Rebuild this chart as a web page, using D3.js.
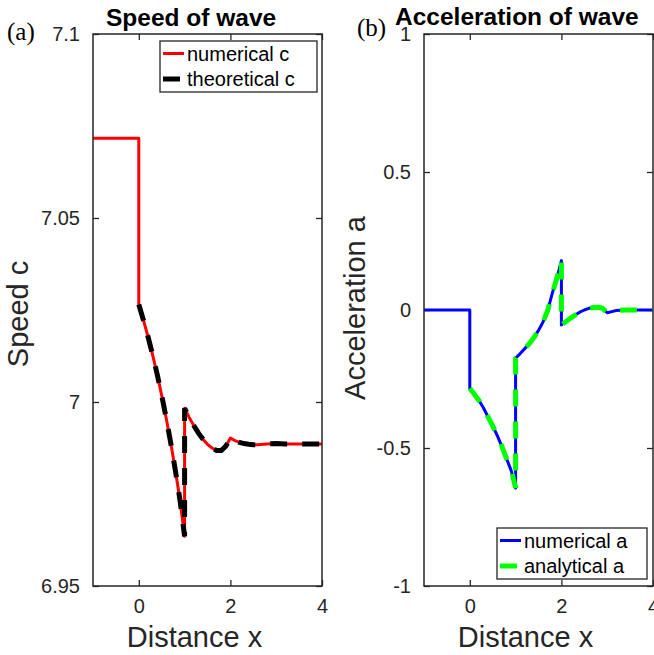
<!DOCTYPE html>
<html>
<head>
<meta charset="utf-8">
<script src="https://cdn.jsdelivr.net/npm/d3@7"></script>
<style>
  body { margin: 0; background: #fff; }
  text { font-family: "Liberation Sans", Arial, sans-serif; }
</style>
</head>
<body>
<svg id="chart" width="654" height="655"></svg>
<script>
// speed of wave (panel a)
const speedX = [-1, 0, 0, 0.1, 0.2, 0.3, 0.4, 0.5, 0.6, 0.7, 0.8, 0.9, 1.0,
  1.0, 1.1, 1.2, 1.3, 1.4, 1.5, 1.6, 1.7, 1.8, 1.9, 2.0,
  2.1, 2.2, 2.3, 2.4, 2.5, 2.6, 2.8, 3.0, 3.2, 3.5, 4.0];
const speedC = [7.0717, 7.0717, 7.0265, 7.0223, 7.0178, 7.0129, 7.0076, 7.0018, 6.9955, 6.9887, 6.9813, 6.9733, 6.9635,
  6.9983, 6.9958, 6.9936, 6.9916, 6.9899, 6.9885, 6.9875, 6.9868, 6.9868, 6.9880, 6.9902,
  6.9895, 6.9890, 6.9887, 6.9885, 6.9884, 6.9884, 6.9886, 6.9887, 6.9886, 6.9886, 6.9886];
const theoryFrom = 2;   // theoretical curve starts at x = 0, after the drop

// acceleration of wave (panel b)
const accelX = [-1, 0, 0, 0.1, 0.2, 0.3, 0.4, 0.5, 0.6, 0.7, 0.8, 0.9, 0.95, 1.0,
  1.0, 1.1, 1.2, 1.3, 1.4, 1.5, 1.6, 1.7, 1.8, 1.9, 2.0,
  2.0, 2.1, 2.2, 2.3, 2.4, 2.5, 2.6, 2.7, 2.8, 2.9, 3.0, 3.1, 3.2, 3.4, 4.0];
const accelA = [0, 0, -0.284, -0.305, -0.328, -0.355, -0.388, -0.420, -0.455, -0.494, -0.538, -0.580, -0.610, -0.645,
  -0.175, -0.158, -0.140, -0.122, -0.100, -0.074, -0.043, -0.002, 0.060, 0.115, 0.179,
  -0.054, -0.042, -0.030, -0.018, -0.008, 0.000, 0.006, 0.009, 0.010, 0.006, -0.010, -0.006, -0.002, 0.000, 0.000];
const analyticFrom = 2;

const xTicks = [0, 2, 4];
const speedTicks = [6.95, 7, 7.05, 7.1];
const speedTickLabels = ["6.95", "7", "7.05", "7.1"];
const accelTicks = [-1, -0.5, 0, 0.5, 1];
const accelTickLabels = ["-1", "-0.5", "0", "0.5", "1"];

const svg = d3.select("#chart");
const axisColor = "#262626";
const yTop = 34, yBottom = 586;

function drawPanel(o) {
  const x = d3.scaleLinear().domain([-1, 4]).range([o.left, o.right]),
        y = d3.scaleLinear().domain(o.yDomain).range([yBottom, yTop]),
        g = svg.append("g");

  // axes with inward ticks, on all four sides
  const ax = [
    [d3.axisBottom(x).tickValues(xTicks).tickFormat(d3.format("d")), `translate(0,${yBottom})`, true],
    [d3.axisTop(x).tickValues(xTicks).tickFormat(""), `translate(0,${yTop})`, false],
    [d3.axisLeft(y).tickValues(o.ticks).tickFormat((d, i) => o.tickLabels[i]), `translate(${o.left},0)`, true],
    [d3.axisRight(y).tickValues(o.ticks).tickFormat(""), `translate(${o.right},0)`, false]
  ];
  ax.forEach(([a, tr, lab]) => {
    const s = g.append("g").attr("transform", tr)
      .call(a.tickSizeInner(-6).tickSizeOuter(0).tickPadding(lab ? 13 : 0));
    s.select(".domain").remove();
    s.selectAll("line").attr("stroke", axisColor).attr("stroke-width", 1.3);
    s.selectAll("text").attr("fill", axisColor).style("font-size", "20px")
      .style("font-family", "'Liberation Sans', Arial, sans-serif");
  });

  const line = d3.line().x(d => x(d[0])).y(d => y(d[1]));
  const all = o.xs.map((v, i) => [v, o.ys[i]]);

  g.append("path").datum(all)
    .attr("d", line).attr("fill", "none")
    .attr("stroke", o.c1).attr("stroke-width", 3)
    .attr("stroke-linejoin", "round");
  g.append("path").datum(all.slice(o.from))
    .attr("d", line).attr("fill", "none")
    .attr("stroke", o.c2).attr("stroke-width", 5)
    .attr("stroke-dasharray", "17,15");

  g.append("rect")
    .attr("x", o.left).attr("y", yTop)
    .attr("width", o.right - o.left).attr("height", yBottom - yTop)
    .attr("fill", "none").attr("stroke", axisColor).attr("stroke-width", 1.5);

  // legend
  const lg = g.append("g").attr("transform", `translate(${o.legend[0]},${o.legend[1]})`);
  lg.append("rect").attr("width", o.legend[2]).attr("height", 51)
    .attr("fill", "#fff").attr("stroke", axisColor).attr("stroke-width", 1.3);
  [[o.c1, 3, null, o.names[0], 12.5], [o.c2, 5, "17,15", o.names[1], 38]].forEach(([c, w, da, t, yy]) => {
    lg.append("line").attr("x1", 3).attr("x2", 24).attr("y1", yy).attr("y2", yy)
      .attr("stroke", c).attr("stroke-width", w).attr("stroke-dasharray", da);
    lg.append("text").attr("x", 27).attr("y", yy + 7).style("font-size", "20px").text(t);
  });

  // titles and labels
  g.append("text").attr("x", o.titleX).attr("y", o.titleY)
    .style("font-size", "24.5px").style("font-weight", "bold").text(o.title);
  g.append("text").attr("x", (o.left + o.right) / 2 - 13).attr("y", 647)
    .attr("text-anchor", "middle").attr("fill", axisColor)
    .style("font-size", "29px").text("Distance x");
  g.append("text")
    .attr("transform", `translate(${o.yLab[0]},${o.yLab[1]}) rotate(-90)`)
    .attr("text-anchor", "middle").attr("fill", axisColor)
    .style("font-size", "29px").text(o.yTitle);
  g.append("text").attr("x", o.tag[0]).attr("y", o.tag[1])
    .style("font-family", "'Liberation Serif', 'Times New Roman', serif")
    .style("font-size", "25px").text(o.tagText);
}

drawPanel({
  left: 93, right: 322, yDomain: [6.95, 7.1],
  ticks: speedTicks, tickLabels: speedTickLabels,
  xs: speedX, ys: speedC, from: theoryFrom,
  c1: "#ff0000", c2: "#000000",
  names: ["numerical c", "theoretical c"], legend: [160, 41, 157],
  title: "Speed of wave", titleX: 106, titleY: 26,
  yTitle: "Speed c", yLab: [28, 314],
  tag: [7, 40], tagText: "(a)"
});

drawPanel({
  left: 424, right: 653, yDomain: [-1, 1],
  ticks: accelTicks, tickLabels: accelTickLabels,
  xs: accelX, ys: accelA, from: analyticFrom,
  c1: "#0000ff", c2: "#00ff00",
  names: ["numerical a", "analytical a"], legend: [497, 528, 150],
  title: "Acceleration of wave", titleX: 395, titleY: 25,
  yTitle: "Acceleration a", yLab: [365, 308],
  tag: [357, 36], tagText: "(b)"
});
</script>
</body>
</html>
